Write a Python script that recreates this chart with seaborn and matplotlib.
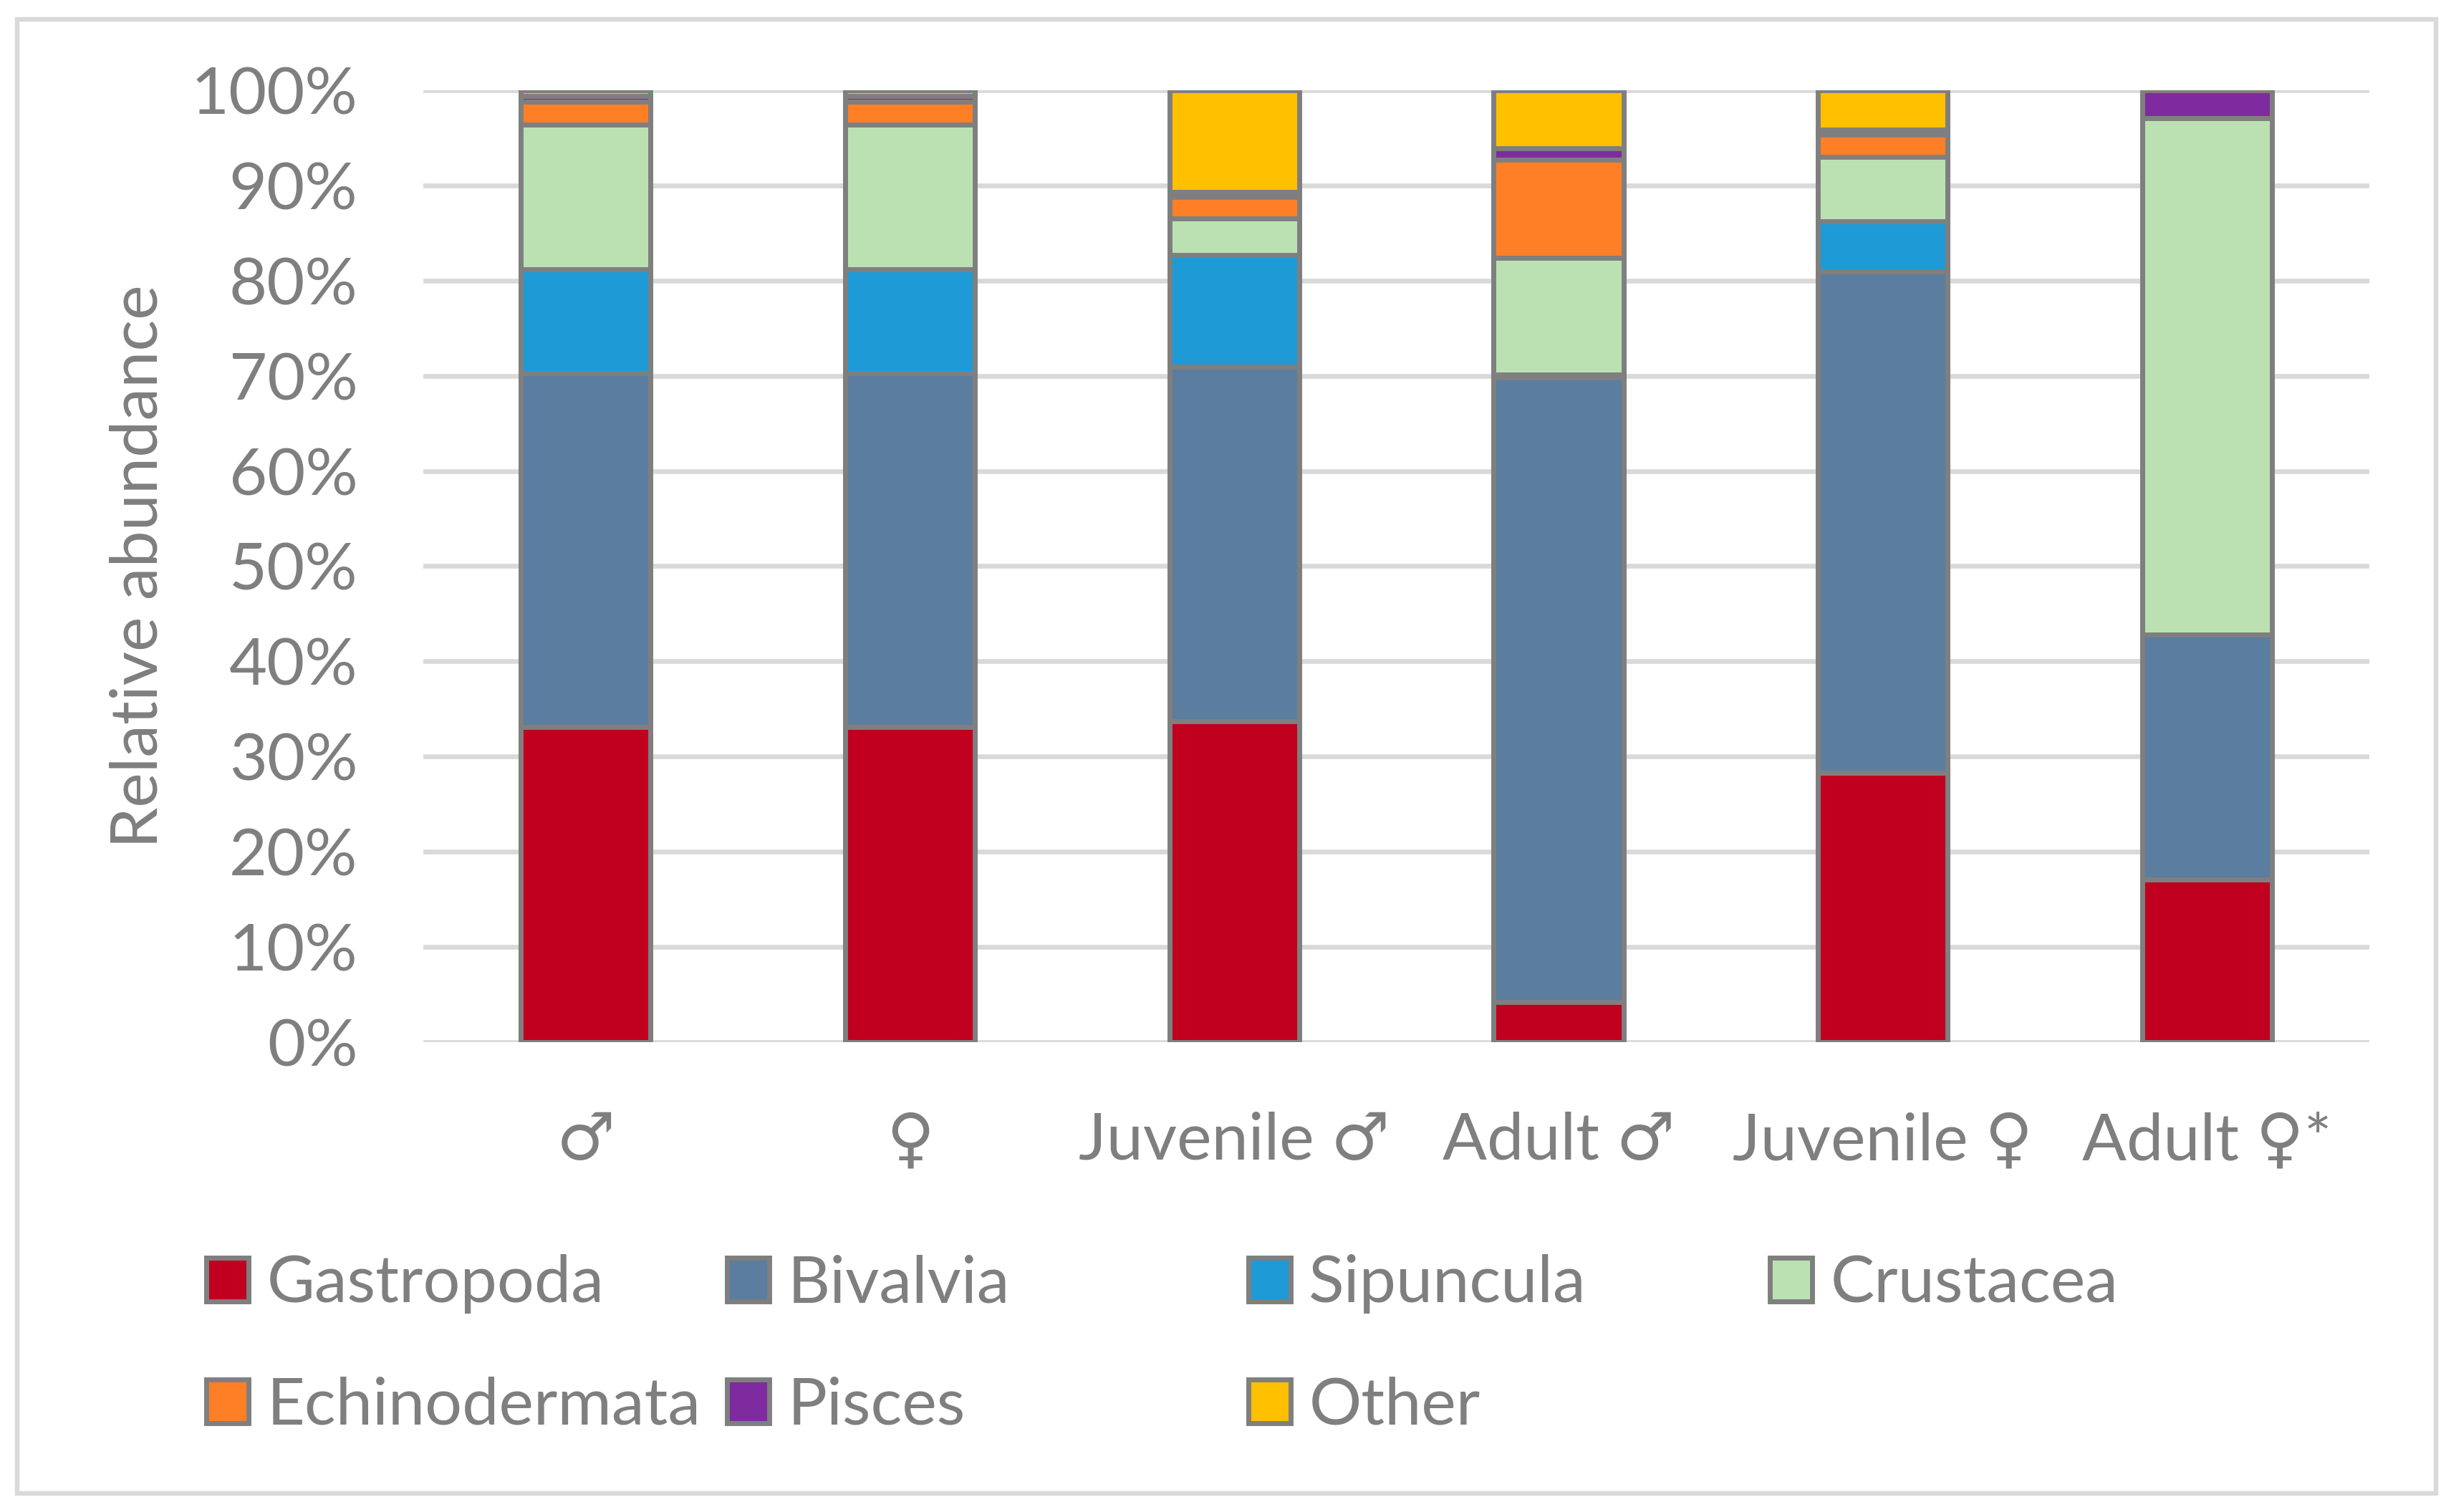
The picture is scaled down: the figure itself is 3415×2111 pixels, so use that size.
import matplotlib
matplotlib.use("Agg")
import matplotlib.pyplot as plt
import matplotlib.patches as mpatches
import numpy as np
import seaborn as sns

# groups on the x axis
groups = ["♂", "♀", "Juvenile ♂", "Adult ♂", "Juvenile ♀", "Adult ♀*"]

# relative abundance (%) per prey group
gastropoda = [33.1, 33.1, 33.7, 4.2, 28.3, 17.1]
bivalvia = [37.2, 37.2, 37.25, 65.6, 52.7, 25.7]
sipuncula = [10.9, 10.9, 11.75, 0.3, 5.2, 0.0]
crustacea = [15.2, 15.2, 3.8, 12.3, 6.8, 54.3]
echinodermata = [2.4, 2.4, 2.3, 10.3, 2.3, 0.0]
pisces = [0.6, 0.6, 0.5, 1.2, 0.6, 2.9]
other = [0.6, 0.6, 10.7, 6.1, 4.1, 0.0]

prey_names = ["Gastropoda", "Bivalvia", "Sipuncula", "Crustacea",
              "Echinodermata", "Pisces", "Other"]
prey_values = [gastropoda, bivalvia, sipuncula, crustacea,
               echinodermata, pisces, other]
prey_colors = ["#C0001E", "#5B7D9F", "#1E9BD7", "#BBE1B3",
               "#FF7F27", "#7F2BA0", "#FFC000"]

yticks = list(range(0, 101, 10))

sns.set_theme(style="white")
plt.rcParams["font.family"] = ["Lato", "DejaVu Sans"]

TXT = "#7f7f7f"
EDGE = "#7f7f7f"
FS = 33

fig = plt.figure(figsize=(17.08, 10.555), dpi=200)
ax = fig.add_axes([0.1730, 0.3108, 0.9684 - 0.1730, 0.9403 - 0.3108])

# stacked bars: draw cumulative totals from the top layer down
cum = np.cumsum(np.array(prey_values), axis=0)
for i in range(len(prey_names) - 1, -1, -1):
    sns.barplot(x=groups, y=cum[i], order=groups, color=prey_colors[i],
                saturation=1, width=0.4, edgecolor=EDGE, linewidth=2.5,
                errorbar=None, ax=ax, zorder=3)

ax.set_xlim(-0.5, len(groups) - 0.5)
ax.set_ylim(0, 100)
ax.set_yticks(yticks)
ax.set_yticklabels([f"{v}%" for v in yticks])
ax.yaxis.grid(True, color="#D9D9D9", linewidth=2.4)
ax.xaxis.grid(False)
ax.set_axisbelow(True)
for s in ax.spines.values():
    s.set_visible(False)
ax.tick_params(axis="y", length=0, pad=33, labelsize=FS, labelcolor=TXT)
ax.tick_params(axis="x", length=0, pad=35, labelsize=FS, labelcolor=TXT)
ax.set_xlabel("")
ax.set_ylabel("")

fig.text(194 / 3416, 1 - 791 / 2111, "Relative abundance", rotation=90,
         ha="center", va="center", fontsize=FS, color=TXT)

# legend laid out like the original: 4 equal columns, 2 rows
col_x = [288, 1015, 1743, 2471]
row_y = [1793, 1963]
slots = [(0, 0), (0, 1), (0, 2), (0, 3), (1, 0), (1, 1), (1, 2)]
for name, col, (r, c) in zip(prey_names, prey_colors, slots):
    h = mpatches.Patch(facecolor=col, edgecolor=EDGE, linewidth=2.5)
    fig.legend(handles=[h], labels=[name], loc="center left",
               bbox_to_anchor=(col_x[c] / 3416, 1 - row_y[r] / 2111),
               frameon=False, fontsize=FS, labelcolor=TXT,
               handlelength=0.64, handleheight=0.64, handletextpad=0.28,
               borderpad=0, borderaxespad=0)

# light grey chart border
fig.patches.append(mpatches.Rectangle(
    (24 / 3416, 1 - 2085 / 2111), (3401 - 24) / 3416, (2085 - 27) / 2111,
    transform=fig.transFigure, fill=False, edgecolor="#D9D9D9", linewidth=2.3))

fig.savefig("out.png", dpi=200, facecolor="white")
